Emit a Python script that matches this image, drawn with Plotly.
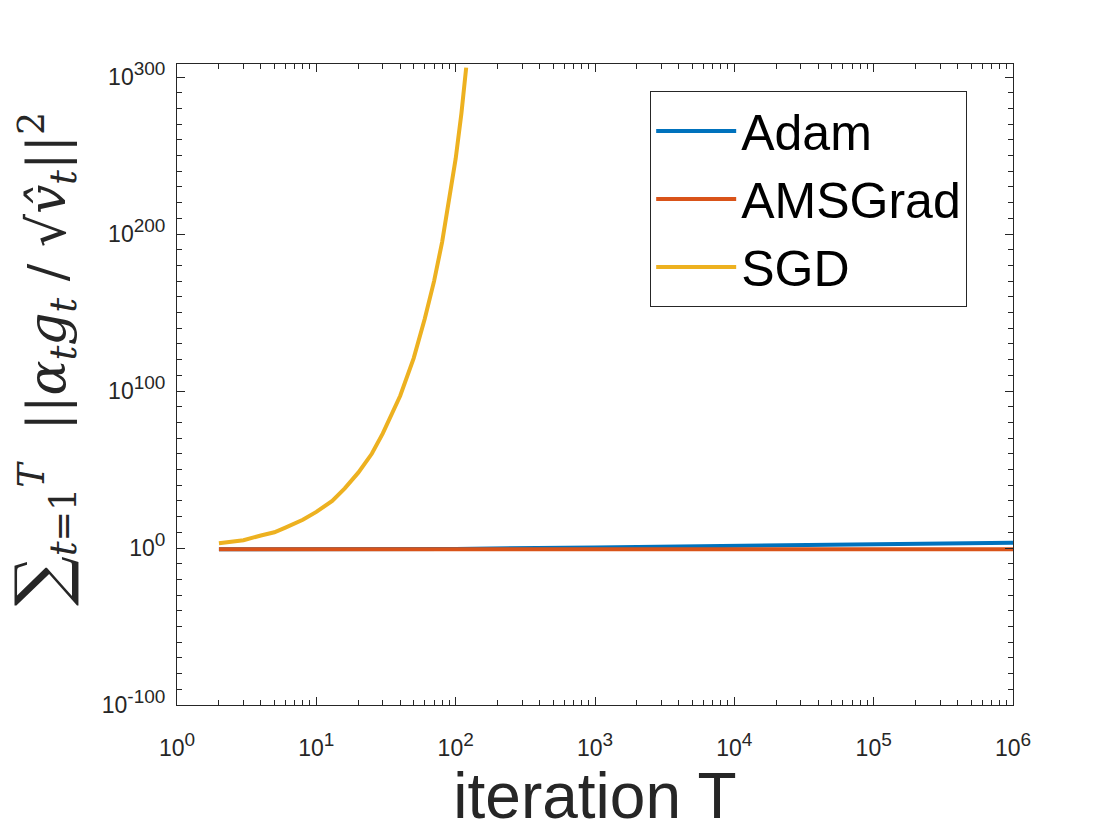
import plotly.graph_objects as go

# iteration counts and summed squared step norms
t_adam = [2, 10, 60, 100, 1000, 10000, 100000, 1000000]
adam = [0.15, 0.15, 0.15, 0.25, 2.5, 25, 250, 2500]

t_ams = [2, 10, 100, 1000, 10000, 100000, 1000000]
ams = [0.15, 0.15, 0.15, 0.15, 0.15, 0.15, 0.15]

t_sgd = [2, 3, 4, 5, 6, 8, 10, 13, 16, 20, 25, 30, 40, 50, 60, 70, 80, 90, 100, 110, 119]
sgd = [1e3, 1e5, 1e8, 1e10, 1e13, 1e18, 1e23, 1e30, 1e38, 1e48, 1e60, 1e73, 1e97,
       1e121, 1e146, 1e170, 1e195, 1e224, 1e248, 1e277, 1e306]

x_ticks = [1, 10, 100, 1000, 10000, 100000, 1000000]
x_exp = ["0", "1", "2", "3", "4", "5", "6"]
y_ticks = [1e-100, 1e0, 1e100, 1e200, 1e300]
y_exp = ["-100", "0", "100", "200", "300"]

y_title = ("<span style='font-size:70px'>∑</span><sub><i>t</i>=1</sub><sup><i>T</i></sup>"
           "  ||<i>α<sub>t</sub>g<sub>t</sub></i> / √<i>v̂<sub>t</sub></i>||<sup>2</sup>")


def power_label(e):
    return "10<sup><span style='font-size:19px'>%s</span></sup>" % e


ink = "#262626"
fig = go.Figure()
fig.add_trace(go.Scatter(x=t_adam, y=adam, mode="lines", name="Adam",
                         line=dict(color="#0072BD", width=4)))
fig.add_trace(go.Scatter(x=t_ams, y=ams, mode="lines", name="AMSGrad",
                         line=dict(color="#D95319", width=4)))
fig.add_trace(go.Scatter(x=t_sgd, y=sgd, mode="lines", name="SGD",
                         line=dict(color="#EDB120", width=4)))

axis_common = dict(showline=True, linecolor=ink, linewidth=1, mirror="allticks",
                   ticks="inside", ticklen=8, tickwidth=1, tickcolor=ink, showgrid=False,
                   zeroline=False, automargin=False,
                   tickfont=dict(family="Liberation Sans", size=23, color=ink))

fig.update_xaxes(type="log", range=[0, 6], tickmode="array", tickvals=x_ticks,
                 ticktext=[power_label(e) for e in x_exp], ticklabelstandoff=22,
                 minor=dict(ticks="inside", ticklen=5, tickwidth=1, tickcolor=ink, dtick="D1"),
                 title=dict(text="iteration T", standoff=27,
                            font=dict(family="Liberation Sans", size=64, color=ink)),
                 **axis_common)
fig.update_yaxes(type="log", range=[-100, 308.3], tickmode="array", tickvals=y_ticks,
                 ticktext=[power_label(e) for e in y_exp], ticklabelstandoff=6,
                 minor=dict(ticks="inside", ticklen=5, tickwidth=1, tickcolor=ink,
                            tickmode="linear", tick0=0, dtick=10),
                 **axis_common)

fig.add_annotation(text=y_title, xref="paper", yref="paper", x=-0.16, y=0.54,
                   xanchor="center", yanchor="middle", textangle=-90, showarrow=False,
                   font=dict(family="DejaVu Serif", size=52, color=ink))

fig.update_layout(
    width=1104, height=824,
    margin=dict(l=169, r=99, t=56, b=127),
    plot_bgcolor="white", paper_bgcolor="white",
    showlegend=True,
    legend=dict(x=0.566, y=0.958, xanchor="left", yanchor="top",
                bordercolor=ink, borderwidth=1, bgcolor="white",
                itemwidth=80,
                font=dict(family="Liberation Sans", size=50, color="black")),
)

fig.write_html("out.html")
